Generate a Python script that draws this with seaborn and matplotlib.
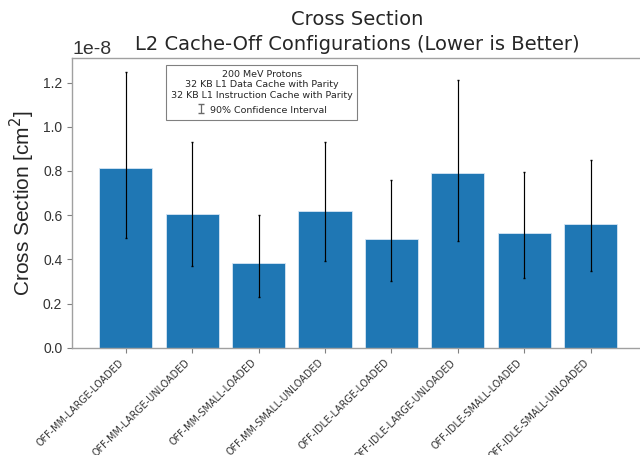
import matplotlib
matplotlib.use("Agg")
import matplotlib.pyplot as plt
import seaborn as sns
import pandas as pd

# configurations on x axis
configs = ["OFF-MM-LARGE-LOADED", "OFF-MM-LARGE-UNLOADED", "OFF-MM-SMALL-LOADED",
           "OFF-MM-SMALL-UNLOADED", "OFF-IDLE-LARGE-LOADED", "OFF-IDLE-LARGE-UNLOADED",
           "OFF-IDLE-SMALL-LOADED", "OFF-IDLE-SMALL-UNLOADED"]
# cross section (units of 1e-8 cm^2)
xsec = [0.812, 0.604, 0.382, 0.617, 0.492, 0.789, 0.518, 0.558]
# 90% confidence interval bounds
ci_low = [0.498, 0.370, 0.231, 0.394, 0.303, 0.484, 0.317, 0.348]
ci_high = [1.249, 0.929, 0.600, 0.929, 0.759, 1.214, 0.796, 0.848]

df = pd.DataFrame({"config": configs, "xsec": [v * 1e-8 for v in xsec]})
err_lo = [(v - l) * 1e-8 for v, l in zip(xsec, ci_low)]
err_hi = [(h - v) * 1e-8 for v, h in zip(xsec, ci_high)]

sns.set_style("white")
plt.rcParams["font.family"] = ["DejaVu Sans"]
plt.rcParams["axes.unicode_minus"] = False

fig = plt.figure(figsize=(6.4, 4.55), dpi=100)
ax = fig.add_axes([72 / 640, 107.3 / 455, 571 / 640, 289.7 / 455])

sns.barplot(data=df, x="config", y="xsec", color="#1f77b4", saturation=1,
            errorbar=None, width=0.8, edgecolor="#d6e6f4", linewidth=0.6, ax=ax)
ax.errorbar(range(len(configs)), df["xsec"], yerr=[err_lo, err_hi], fmt="none",
            ecolor="black", elinewidth=0.85, capsize=0.8)

# legend-like annotation box
ci_handle = ax.errorbar([float("nan")], [float("nan")], yerr=[float("nan")], fmt="none",
                        ecolor="dimgray", elinewidth=0.9, capsize=2,
                        label="90% Confidence Interval")
leg = ax.legend(handles=[ci_handle],
                title="200 MeV Protons\n32 KB L1 Data Cache with Parity\n32 KB L1 Instruction Cache with Parity",
                loc="upper left", bbox_to_anchor=(166 / 640, 1 - 65 / 455),
                bbox_transform=fig.transFigure, fontsize=6.8, title_fontsize=6.8,
                fancybox=False, framealpha=1, edgecolor="gray", borderaxespad=0,
                handlelength=1.0, handleheight=1.5, handletextpad=0.4,
                borderpad=0.5, labelspacing=0.5)
leg.get_title().set_multialignment("center")
leg.get_frame().set_linewidth(0.8)

ax.set_title("Cross Section\nL2 Cache-Off Configurations (Lower is Better)",
             fontsize=14, pad=6, linespacing=1.35)
ax.set_ylabel("Cross Section [cm$^2$]", fontsize=15, family="Liberation Sans")
ax.set_xlabel("")
ax.set_xticks(range(len(configs)))
ax.set_xticklabels(configs, rotation=45, ha="right", fontsize=6.9)
ax.tick_params(axis="y", labelsize=10, colors="#333333", length=3.5,
               direction="out", left=True, color="gray")
ax.tick_params(axis="x", length=3.5, direction="out", bottom=True, color="gray",
               labelcolor="#333333")
for lbl in ax.get_yticklabels():
    lbl.set_family("Liberation Sans")
ax.yaxis.get_offset_text().set_fontsize(14)
ax.yaxis.get_offset_text().set_family("Liberation Sans")
ax.set_xlim(-0.81, 7.79)

for side in ["left", "bottom", "top", "right"]:
    ax.spines[side].set_color("#a0a0a0")
    ax.spines[side].set_linewidth(1.0)

fig.savefig("out.png", dpi=100)
